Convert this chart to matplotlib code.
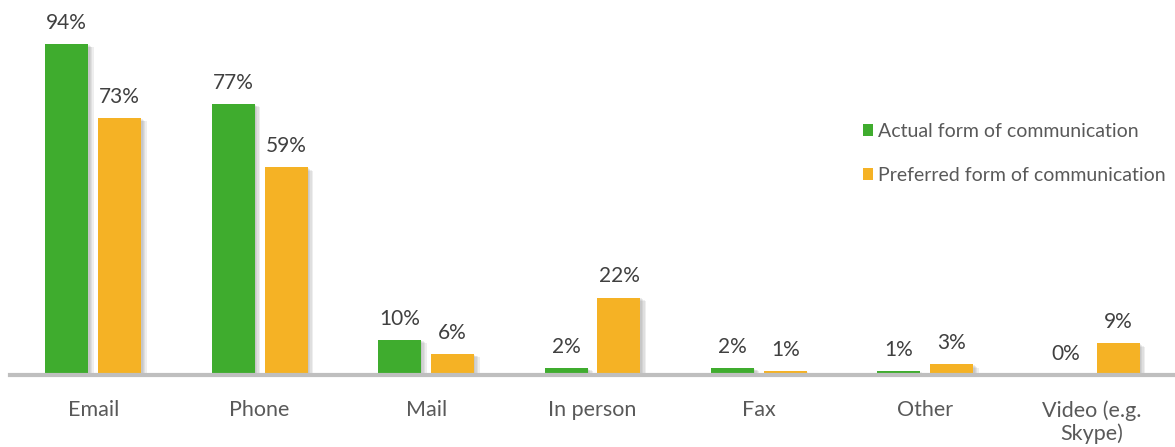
import numpy as np
import matplotlib.pyplot as plt
import matplotlib.patheffects as pe

# ---------- DATA ----------
categories = ["Email", "Phone", "Mail", "In person", "Fax", "Other", "Video (e.g.\nSkype)"]
actual = [94, 77, 10, 2, 2, 1, 0]
preferred = [73, 59, 6, 22, 1, 3, 9]
series_names = ["Actual form of communication", "Preferred form of communication"]

GREEN = "#3FAC2E"
ORANGE = "#F5B225"
TEXT = "#404040"
LABEL = "#595959"

plt.rcParams["font.family"] = ["Lato", "DejaVu Sans"]

fig = plt.figure(figsize=(11.75, 4.47), dpi=100)
W, H = 1175, 447
# axes placed in pixel terms: x 10..1175, y (axis line) 375, 100% at 23
ax = fig.add_axes([10 / W, (H - 375) / H, 1165 / W, 352 / H])

x = np.arange(len(categories))
bw = 0.258
off = 0.159
# soft drop shadow made of a few faint offset copies
shadow = [pe.SimplePatchShadow(offset=(k, -k * 0.6), shadow_rgbFace="#7F7F7F", alpha=0.13)
          for k in (4, 3, 2, 1)] + [pe.Normal()]

b1 = ax.bar(x - off, actual, bw, color=GREEN, label=series_names[0], zorder=3)
b2 = ax.bar(x + off, preferred, bw, color=ORANGE, label=series_names[1], zorder=3)
for b in list(b1) + list(b2):
    b.set_path_effects(shadow)

for bars, vals in [(b1, actual), (b2, preferred)]:
    for b, v in zip(bars, vals):
        ax.annotate(f"{v}%", (b.get_x() + b.get_width() / 2, v),
                    xytext=(0, 8), textcoords="offset points",
                    ha="center", va="bottom", fontsize=15, color=TEXT)

ax.set_xlim(-0.5, len(categories) - 0.5)
ax.set_ylim(0, 100)
ax.set_xticks(x)
ax.set_xticklabels(categories, fontsize=15.5, color=LABEL, linespacing=1.15)
ax.tick_params(axis="x", length=0, pad=18)
ax.set_yticks([])
for s in ["top", "right", "left"]:
    ax.spines[s].set_visible(False)
ax.spines["bottom"].set_color("#BFBFBF")
ax.spines["bottom"].set_linewidth(3)
ax.spines["bottom"].set_zorder(4)

leg = ax.legend(loc="upper left", bbox_to_anchor=(845 / 1165, (375 - 115) / 352),
                frameon=False, fontsize=14, handlelength=0.55, handleheight=0.55,
                handletextpad=0.25, labelspacing=1.4, borderaxespad=0)
for t in leg.get_texts():
    t.set_color(LABEL)
for h in leg.legend_handles:
    h.set_path_effects([])

fig.savefig("out.png", dpi=100)
